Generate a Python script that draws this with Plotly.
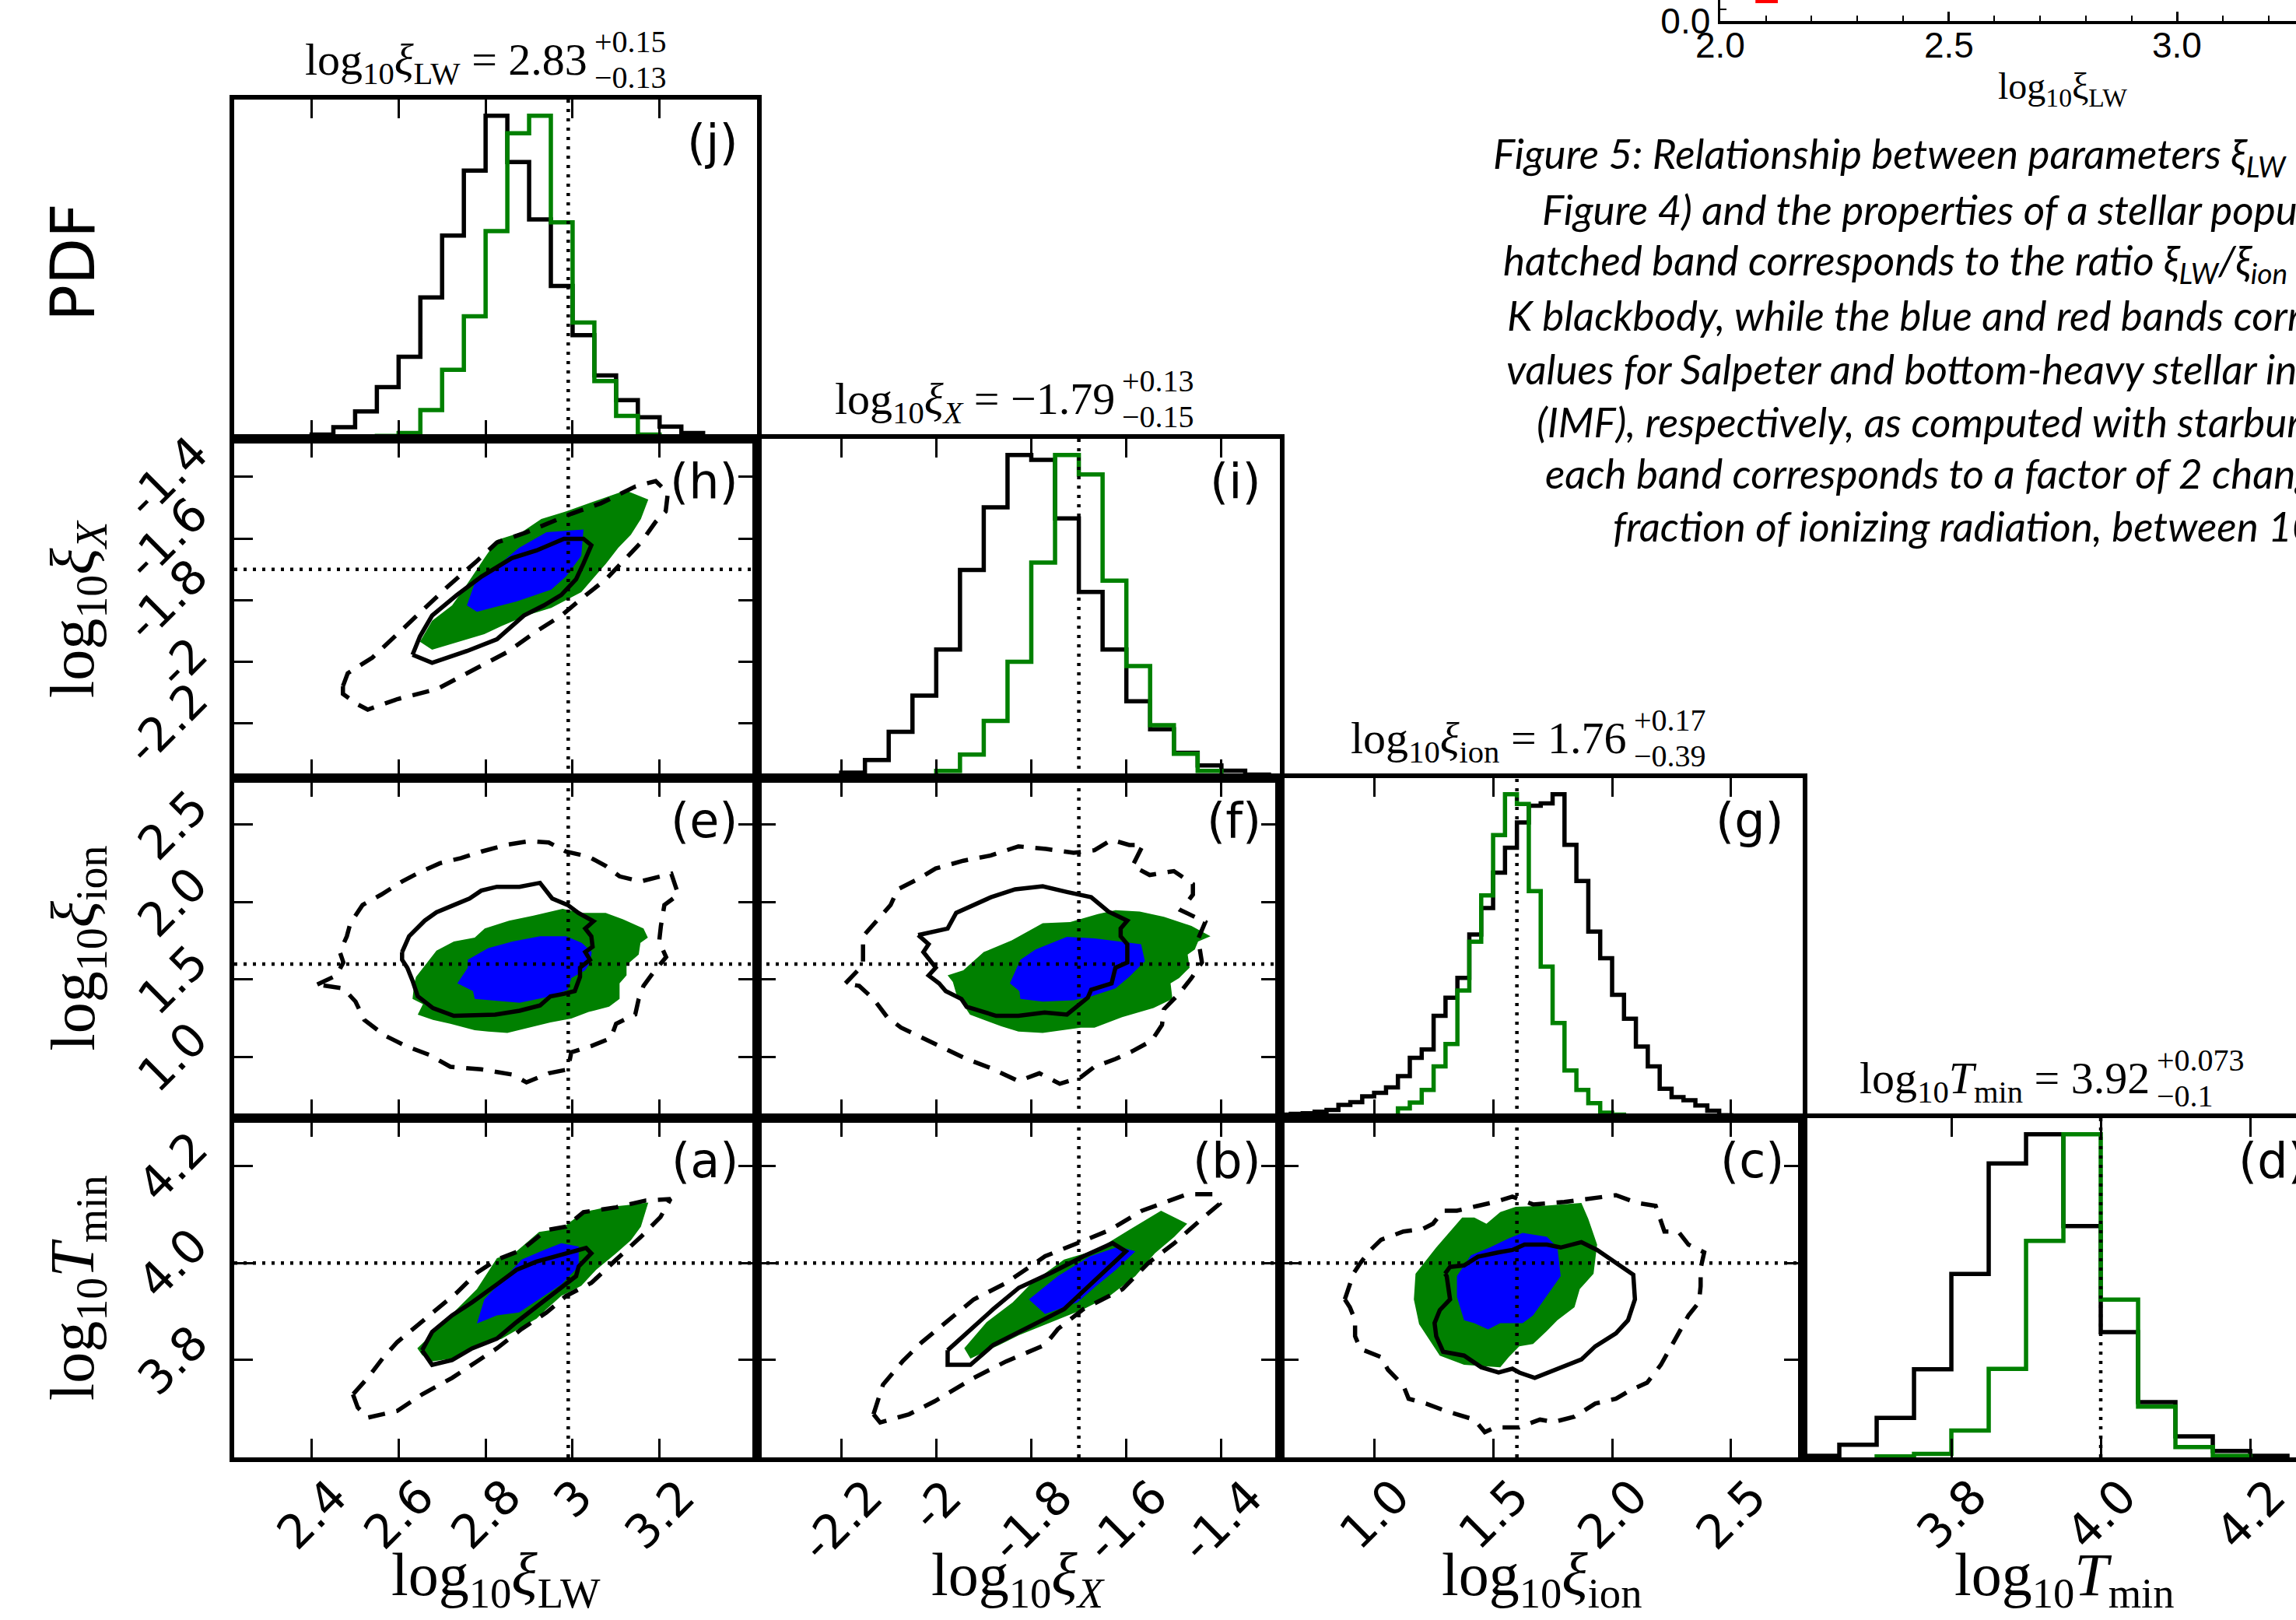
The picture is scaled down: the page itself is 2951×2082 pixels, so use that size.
import plotly.graph_objects as go

W, H = 2951, 2082

# ============================ DATA ============================
# parameters: 0 = log10 xi_LW, 1 = log10 xi_X, 2 = log10 xi_ion, 3 = log10 T_min
true_vals = [2.99, -1.70, 1.60, 4.00]

tick_vals = [[2.4, 2.6, 2.8, 3.0, 3.2],
             [-2.2, -2.0, -1.8, -1.6, -1.4],
             [1.0, 1.5, 2.0, 2.5],
             [3.8, 4.0, 4.2]]
tick_text = [['2.4', '2.6', '2.8', '3', '3.2'],
             ['-2.2', '-2', '-1.8', '-1.6', '-1.4'],
             ['1.0', '1.5', '2.0', '2.5'],
             ['3.8', '4.0', '4.2']]

axis_titles = ['log<sub>10</sub><i>ξ</i><sub>LW</sub>',
               'log<sub>10</sub><i>ξ</i><sub><i>X</i></sub>',
               'log<sub>10</sub><i>ξ</i><sub>ion</sub>',
               'log<sub>10</sub><i>T</i><sub>min</sub>']
title_median = ['2.83', '−1.79', '1.76', '3.92']
title_plus = ['+0.15', '+0.13', '+0.17', '+0.073']
title_minus = ['−0.13', '−0.15', '−0.39', '−0.1']

# ---- marginal histograms (step, normalised to peak) ----
j_black_edges = [2.30, 2.35, 2.40, 2.45, 2.50, 2.55, 2.60, 2.65, 2.70, 2.75, 2.80, 2.85,
                 2.90, 2.95, 3.00, 3.05, 3.10, 3.15, 3.20, 3.25, 3.30, 3.35, 3.40]
j_black = [0.002, 0.004, 0.013, 0.036, 0.085, 0.160, 0.254, 0.438, 0.629, 0.830, 1.000,
           0.857, 0.679, 0.473, 0.321, 0.196, 0.120, 0.067, 0.038, 0.018, 0.007, 0.003]
j_green_edges = [2.50, 2.55, 2.60, 2.65, 2.70, 2.75, 2.80, 2.85, 2.90, 2.95, 3.00, 3.05,
                 3.10, 3.15, 3.20, 3.25, 3.30]
j_green = [0.002, 0.009, 0.018, 0.089, 0.214, 0.379, 0.643, 0.946, 1.000, 0.670, 0.360,
           0.179, 0.071, 0.013, 0.004, 0.002]

i_black_edges = [-2.30, -2.25, -2.20, -2.15, -2.10, -2.05, -2.00, -1.95, -1.90, -1.85, -1.80,
                 -1.75, -1.70, -1.65, -1.60, -1.55, -1.50, -1.45, -1.40, -1.35, -1.30]
i_black = [0.002, 0.004, 0.017, 0.056, 0.143, 0.255, 0.398, 0.644, 0.838, 1.000, 0.985,
           0.804, 0.576, 0.398, 0.238, 0.151, 0.078, 0.039, 0.023, 0.011]
i_green_edges = [-2.05, -2.00, -1.95, -1.90, -1.85, -1.80, -1.75, -1.70, -1.65, -1.60, -1.55,
                 -1.50, -1.45, -1.40, -1.35, -1.30]
i_green = [0.004, 0.022, 0.073, 0.177, 0.360, 0.667, 1.000, 0.940, 0.611, 0.347, 0.164,
           0.075, 0.022, 0.007, 0.003]

g_black_edges = [0.60, 0.65, 0.70, 0.75, 0.80, 0.85, 0.90, 0.95, 1.00, 1.05, 1.10, 1.15,
                 1.20, 1.25, 1.30, 1.35, 1.40, 1.45, 1.50, 1.55, 1.60, 1.65, 1.70, 1.75,
                 1.80, 1.85, 1.90, 1.95, 2.00, 2.05, 2.10, 2.15, 2.20, 2.25, 2.30, 2.35,
                 2.40, 2.45, 2.50, 2.55, 2.60, 2.65, 2.70, 2.75, 2.80]
g_black = [0.011, 0.013, 0.015, 0.020, 0.025, 0.041, 0.049, 0.067, 0.078, 0.095, 0.130,
           0.186, 0.212, 0.316, 0.372, 0.433, 0.567, 0.649, 0.758, 0.835, 0.913, 0.965,
           0.972, 1.000, 0.844, 0.732, 0.576, 0.494, 0.381, 0.307, 0.221, 0.160, 0.091,
           0.065, 0.055, 0.039, 0.023, 0.009, 0.004, 0.004, 0.003, 0.002, 0.002, 0.001]
g_green_edges = [0.95, 1.00, 1.05, 1.10, 1.15, 1.20, 1.25, 1.30, 1.35, 1.40, 1.45, 1.50,
                 1.55, 1.60, 1.65, 1.70, 1.75, 1.80, 1.85, 1.90, 1.95, 2.00, 2.05, 2.10]
g_green = [0.002, 0.002, 0.006, 0.030, 0.048, 0.087, 0.160, 0.229, 0.394, 0.545, 0.688,
           0.874, 1.000, 0.970, 0.701, 0.468, 0.294, 0.147, 0.087, 0.046, 0.017, 0.011, 0.004]

d_black_edges = [3.55, 3.60, 3.65, 3.70, 3.75, 3.80, 3.85, 3.90, 3.95, 4.00, 4.05, 4.10,
                 4.15, 4.20, 4.25]
d_black = [0.003, 0.005, 0.039, 0.122, 0.273, 0.568, 0.910, 1.000, 0.716, 0.388, 0.171,
           0.065, 0.020, 0.005]
d_green_edges = [3.70, 3.75, 3.80, 3.85, 3.90, 3.95, 4.00, 4.05, 4.10, 4.15, 4.20]
d_green = [0.003, 0.011, 0.083, 0.274, 0.670, 1.000, 0.488, 0.157, 0.032, 0.005]

# ---- 2D credible regions (vertices) ----
# (h) xi_LW vs xi_X
h_green_x = [2.649, 2.677, 2.723, 2.757, 2.797, 2.826, 2.883, 2.928, 2.985, 3.054, 3.122, 3.174,
             3.157, 3.134, 3.105, 3.077, 3.020, 2.985, 2.951, 2.894, 2.837, 2.797, 2.757, 2.700, 2.677]
h_green_y = [-1.935, -1.867, -1.817, -1.749, -1.664, -1.605, -1.580, -1.537, -1.512, -1.478, -1.444, -1.474,
             -1.537, -1.588, -1.630, -1.681, -1.774, -1.800, -1.825, -1.850, -1.884, -1.910, -1.927, -1.952, -1.961]
h_blue_x = [2.757, 2.774, 2.826, 2.877, 2.940, 3.025, 3.020, 2.985, 2.951, 2.871, 2.780]
h_blue_y = [-1.817, -1.749, -1.690, -1.630, -1.580, -1.571, -1.656, -1.723, -1.766, -1.804, -1.838]
h_solid_x = [2.632, 2.649, 2.677, 2.734, 2.791, 2.860, 2.917, 2.980, 3.025, 3.043, 3.025, 3.008,
             2.974, 2.934, 2.888, 2.866, 2.826, 2.757, 2.677]
h_solid_y = [-1.977, -1.918, -1.850, -1.783, -1.723, -1.664, -1.639, -1.601, -1.601, -1.622, -1.681, -1.732,
             -1.783, -1.817, -1.850, -1.876, -1.927, -1.965, -2.003]
h_dash_x = [2.472, 2.483, 2.540, 2.597, 2.654, 2.712, 2.780, 2.826, 2.894, 2.997, 3.065, 3.145, 3.191,
            3.219, 3.214, 3.191, 3.157, 3.122, 3.077, 3.031, 2.974, 2.917, 2.849, 2.780, 2.689, 2.597,
            2.529, 2.506, 2.472]
h_dash_y = [-2.079, -2.037, -1.986, -1.910, -1.834, -1.757, -1.673, -1.613, -1.580, -1.520, -1.486, -1.431, -1.414,
            -1.452, -1.512, -1.546, -1.613, -1.664, -1.732, -1.783, -1.850, -1.901, -1.969, -2.020, -2.088, -2.121,
            -2.155, -2.138, -2.104]

# (e) xi_LW vs xi_ion
e_green_x = [2.640, 2.687, 2.727, 2.775, 2.798, 2.854, 2.910, 2.977, 3.021, 3.076, 3.116, 3.163, 3.173,
             3.156, 3.152, 3.124, 3.124, 3.108, 3.108, 3.084, 3.037, 2.997, 2.949, 2.902, 2.850, 2.806,
             2.775, 2.719, 2.679, 2.644, 2.656, 2.632, 2.636]
e_green_y = [1.517, 1.686, 1.745, 1.770, 1.829, 1.880, 1.913, 1.956, 1.930, 1.930, 1.888, 1.829, 1.770,
             1.736, 1.661, 1.593, 1.526, 1.475, 1.374, 1.324, 1.290, 1.248, 1.222, 1.189, 1.155, 1.163,
             1.172, 1.214, 1.239, 1.273, 1.340, 1.374, 1.475]
e_blue_x = [2.735, 2.759, 2.759, 2.806, 2.862, 2.925, 2.985, 3.021, 3.044, 3.040, 3.029, 2.997, 2.989,
            2.949, 2.878, 2.775, 2.771]
e_blue_y = [1.475, 1.576, 1.627, 1.703, 1.745, 1.779, 1.779, 1.736, 1.677, 1.610, 1.559, 1.509, 1.433,
            1.391, 1.349, 1.374, 1.425]
e_solid_x = [2.608, 2.624, 2.660, 2.687, 2.727, 2.763, 2.790, 2.826, 2.878, 2.925, 2.953, 2.989, 3.013,
             3.048, 3.029, 3.043, 3.046, 3.029, 3.040, 3.017, 3.017, 3.005, 2.981, 2.949, 2.925, 2.878,
             2.822, 2.727, 2.679, 2.644, 2.632, 2.620, 2.608]
e_solid_y = [1.677, 1.779, 1.880, 1.934, 1.981, 2.023, 2.074, 2.099, 2.099, 2.124, 2.023, 1.981, 1.930,
             1.876, 1.829, 1.779, 1.711, 1.677, 1.627, 1.576, 1.517, 1.425, 1.408, 1.391, 1.332, 1.298,
             1.273, 1.265, 1.315, 1.391, 1.492, 1.576, 1.627]
e_dash_x = [2.413, 2.457, 2.473, 2.465, 2.481, 2.489, 2.517, 2.560, 2.608, 2.648, 2.695, 2.743, 2.790,
            2.846, 2.902, 2.945, 2.985, 3.037, 3.076, 3.108, 3.156, 3.195, 3.227, 3.243, 3.211, 3.203,
            3.199, 3.215, 3.187, 3.163, 3.152, 3.144, 3.100, 3.088, 3.044, 2.997, 2.989, 2.945, 2.894,
            2.862, 2.790, 2.719, 2.671, 2.616, 2.568, 2.521, 2.501, 2.473, 2.433]
e_dash_y = [1.467, 1.526, 1.610, 1.677, 1.779, 1.863, 1.981, 2.048, 2.133, 2.192, 2.251, 2.284, 2.326,
            2.369, 2.394, 2.385, 2.326, 2.293, 2.234, 2.166, 2.133, 2.158, 2.183, 2.048, 1.981, 1.846,
            1.745, 1.644, 1.551, 1.458, 1.374, 1.273, 1.214, 1.121, 1.071, 1.029, 0.919, 0.894, 0.835,
            0.885, 0.919, 0.936, 1.012, 1.071, 1.138, 1.239, 1.357, 1.442, 1.458]

# (f) xi_X vs xi_ion
f_green_x = [-1.976, -1.943, -1.900, -1.841, -1.776, -1.718, -1.660, -1.623, -1.572, -1.521, -1.463,
             -1.423, -1.449, -1.456, -1.471, -1.467, -1.489, -1.507, -1.503, -1.543, -1.609, -1.667,
             -1.696, -1.776, -1.827, -1.863, -1.929, -1.958, -1.965]
f_green_y = [1.526, 1.559, 1.677, 1.753, 1.863, 1.871, 1.922, 1.947, 1.939, 1.905, 1.846, 1.779, 1.745,
             1.694, 1.661, 1.576, 1.509, 1.475, 1.374, 1.315, 1.256, 1.189, 1.189, 1.155, 1.163, 1.197,
             1.273, 1.408, 1.484]
f_blue_x = [-1.845, -1.823, -1.791, -1.725, -1.667, -1.609, -1.569, -1.561, -1.594, -1.623, -1.674,
            -1.711, -1.776, -1.823, -1.825]
f_blue_y = [1.475, 1.627, 1.694, 1.775, 1.765, 1.745, 1.728, 1.618, 1.517, 1.442, 1.391, 1.366, 1.357,
            1.374, 1.425]
f_solid_x = [-2.038, -1.976, -1.958, -1.921, -1.885, -1.834, -1.776, -1.725, -1.674, -1.638, -1.598,
             -1.612, -1.612, -1.598, -1.598, -1.623, -1.631, -1.674, -1.681, -1.725, -1.772, -1.827,
             -1.874, -1.936, -1.947, -1.980, -1.994, -2.016, -2.001, -2.027, -2.016]
f_solid_y = [1.787, 1.829, 1.930, 1.981, 2.031, 2.082, 2.102, 2.065, 2.031, 1.939, 1.880, 1.829, 1.779,
             1.728, 1.610, 1.576, 1.475, 1.433, 1.383, 1.273, 1.286, 1.265, 1.265, 1.324, 1.374, 1.425,
             1.475, 1.526, 1.576, 1.677, 1.728]
f_dash_x = [-2.191, -2.154, -2.154, -2.125, -2.096, -2.081, -2.038, -2.001, -1.943, -1.885, -1.827,
            -1.769, -1.711, -1.667, -1.631, -1.594, -1.565, -1.587, -1.551, -1.500, -1.460, -1.460,
            -1.485, -1.434, -1.449, -1.441, -1.463, -1.489, -1.521, -1.525, -1.547, -1.587, -1.623,
            -1.667, -1.696, -1.740, -1.783, -1.827, -1.885, -1.936, -1.987, -2.031, -2.074, -2.103,
            -2.132, -2.162]
f_dash_y = [1.475, 1.593, 1.779, 1.880, 1.981, 2.082, 2.149, 2.217, 2.267, 2.301, 2.360, 2.343, 2.318,
            2.335, 2.402, 2.369, 2.369, 2.234, 2.175, 2.200, 2.116, 2.048, 1.947, 1.871, 1.762, 1.610,
            1.509, 1.408, 1.307, 1.206, 1.104, 1.037, 0.986, 0.936, 0.868, 0.826, 0.894, 0.843, 0.927,
            0.986, 1.062, 1.121, 1.189, 1.256, 1.374, 1.458]

# (a) xi_LW vs T_min
a_green_x = [2.643, 2.689, 2.734, 2.780, 2.826, 2.871, 2.923, 2.974, 3.025, 3.077, 3.122, 3.174, 3.157,
             3.134, 3.100, 3.054, 3.020, 2.974, 2.940, 2.917, 2.837, 2.769, 2.723, 2.677, 2.654]
a_green_y = [3.824, 3.864, 3.905, 3.946, 4.010, 4.024, 4.064, 4.071, 4.105, 4.115, 4.119, 4.125, 4.075,
             4.047, 4.020, 3.986, 3.953, 3.932, 3.905, 3.885, 3.844, 3.824, 3.803, 3.797, 3.810]
a_blue_x = [2.780, 2.797, 2.837, 2.883, 2.934, 2.974, 3.014, 3.014, 2.974, 2.940, 2.877, 2.826]
a_blue_y = [3.875, 3.925, 3.963, 4.007, 4.027, 4.041, 4.034, 3.993, 3.956, 3.936, 3.898, 3.892]
a_solid_x = [2.654, 2.677, 2.723, 2.769, 2.826, 2.871, 2.917, 2.974, 3.031, 3.043, 3.014, 3.008, 2.974,
             2.928, 2.871, 2.826, 2.769, 2.723, 2.677]
a_solid_y = [3.820, 3.858, 3.892, 3.919, 3.956, 3.986, 4.003, 4.017, 4.031, 4.020, 3.993, 3.973, 3.949,
             3.919, 3.878, 3.844, 3.824, 3.800, 3.790]
a_dash_x = [2.495, 2.506, 2.529, 2.597, 2.654, 2.723, 2.780, 2.826, 2.883, 2.940, 2.985, 3.043, 3.100,
            3.157, 3.202, 3.225, 3.168, 3.100, 3.025, 2.985, 2.940, 2.883, 2.826, 2.780, 2.734, 2.689,
            2.643, 2.597, 2.563, 2.529]
a_dash_y = [3.729, 3.702, 3.681, 3.695, 3.729, 3.763, 3.797, 3.824, 3.864, 3.898, 3.932, 3.959, 4.007,
            4.054, 4.095, 4.132, 4.129, 4.115, 4.105, 4.075, 4.068, 4.027, 4.007, 3.980, 3.939, 3.905,
            3.871, 3.837, 3.803, 3.763]

# (b) xi_X vs T_min
b_green_x = [-1.941, -1.894, -1.839, -1.799, -1.731, -1.663, -1.595, -1.527, -1.472, -1.499, -1.540,
             -1.581, -1.635, -1.690, -1.758, -1.826, -1.867, -1.928]
b_green_y = [3.824, 3.878, 3.919, 3.959, 4.007, 4.027, 4.068, 4.108, 4.081, 4.054, 4.020, 3.973, 3.932,
             3.905, 3.878, 3.851, 3.831, 3.803]
b_blue_x = [-1.805, -1.744, -1.676, -1.615, -1.581, -1.622, -1.663, -1.703, -1.771]
b_blue_y = [3.925, 3.973, 4.014, 4.034, 4.024, 3.986, 3.953, 3.919, 3.895]
b_solid_x = [-1.976, -1.928, -1.880, -1.826, -1.758, -1.690, -1.629, -1.601, -1.649, -1.697, -1.731,
             -1.771, -1.826, -1.880, -1.928, -1.976]
b_solid_y = [3.820, 3.864, 3.905, 3.949, 3.980, 4.014, 4.041, 4.024, 3.980, 3.939, 3.905, 3.885, 3.858,
             3.831, 3.790, 3.790]
b_dash_x = [-2.132, -2.112, -2.071, -2.030, -1.962, -1.921, -1.853, -1.771, -1.703, -1.635, -1.567,
            -1.472, -1.418, -1.404, -1.445, -1.499, -1.554, -1.608, -1.690, -1.744, -1.771, -1.853,
            -1.921, -2.003, -2.057, -2.118]
b_dash_y = [3.688, 3.749, 3.797, 3.837, 3.892, 3.925, 3.959, 4.014, 4.041, 4.068, 4.108, 4.142, 4.142,
            4.122, 4.088, 4.041, 4.000, 3.946, 3.905, 3.864, 3.831, 3.797, 3.763, 3.715, 3.688, 3.671]

# (c) xi_ion vs T_min
c_green_x = [1.174, 1.261, 1.370, 1.421, 1.472, 1.530, 1.595, 1.711, 1.871, 1.900, 1.937, 1.929, 1.922,
             1.864, 1.842, 1.770, 1.726, 1.668, 1.610, 1.566, 1.530, 1.378, 1.276, 1.189, 1.167]
c_green_y = [3.978, 4.032, 4.094, 4.094, 4.081, 4.105, 4.116, 4.118, 4.124, 4.091, 4.038, 4.005, 3.978,
             3.946, 3.909, 3.882, 3.860, 3.833, 3.828, 3.806, 3.785, 3.790, 3.809, 3.874, 3.925]
c_blue_x = [1.348, 1.407, 1.486, 1.566, 1.624, 1.726, 1.770, 1.784, 1.711, 1.668, 1.624, 1.530, 1.479,
            1.421, 1.378, 1.348]
c_blue_y = [3.973, 4.016, 4.032, 4.051, 4.062, 4.054, 4.032, 3.973, 3.922, 3.892, 3.876, 3.876, 3.863,
            3.876, 3.882, 3.930]
c_solid_x = [1.298, 1.319, 1.378, 1.436, 1.523, 1.581, 1.632, 1.726, 1.784, 1.871, 1.937, 2.002, 2.089,
             2.096, 2.067, 2.016, 1.966, 1.929, 1.871, 1.813, 1.741, 1.675, 1.610, 1.581, 1.523, 1.450,
             1.378, 1.290, 1.261, 1.254, 1.276, 1.319, 1.305]
c_solid_y = [3.978, 3.992, 3.995, 4.013, 4.022, 4.027, 4.038, 4.038, 4.032, 4.043, 4.027, 4.005, 3.976,
             3.925, 3.882, 3.855, 3.839, 3.828, 3.801, 3.790, 3.774, 3.763, 3.774, 3.782, 3.774, 3.785,
             3.809, 3.817, 3.849, 3.876, 3.903, 3.925, 3.973]
c_dash_x = [0.877, 0.891, 0.913, 0.942, 0.985, 1.029, 1.123, 1.203, 1.247, 1.290, 1.348, 1.436, 1.508,
            1.581, 1.668, 1.799, 1.929, 2.016, 2.104, 2.183, 2.220, 2.278, 2.321, 2.387, 2.372, 2.372,
            2.365, 2.321, 2.285, 2.249, 2.205, 2.147, 2.074, 2.016, 1.929, 1.842, 1.755, 1.697, 1.610,
            1.508, 1.465, 1.421, 1.305, 1.218, 1.145, 1.123, 1.058, 1.029, 0.942, 0.920, 0.920, 0.898]
c_dash_y = [3.925, 3.946, 3.978, 4.000, 4.027, 4.048, 4.065, 4.070, 4.081, 4.108, 4.108, 4.118, 4.126,
            4.137, 4.121, 4.126, 4.134, 4.140, 4.124, 4.118, 4.065, 4.065, 4.038, 4.022, 3.989, 3.952,
            3.919, 3.892, 3.860, 3.828, 3.790, 3.753, 3.737, 3.720, 3.710, 3.683, 3.672, 3.677, 3.661,
            3.661, 3.651, 3.677, 3.694, 3.710, 3.720, 3.747, 3.780, 3.806, 3.823, 3.849, 3.882, 3.909]

# ---- partial neighbouring figure (top right) ----
mini_xticks = [2.0, 2.5, 3.0]
mini_xticktext = ['2.0', '2.5', '3.0']
mini_minor = [2.1, 2.2, 2.3, 2.4, 2.6, 2.7, 2.8, 2.9, 3.1, 3.2]
mini_yticks = [0.0, 0.55]
mini_yticktext = ['0.0', '']
red_patch_x = [2.077, 2.126]
red_patch_y = [0.85, 1.0]

caption_lines = [
    "Figure 5: Relationship between parameters ξ<sub>LW</sub>",
    "Figure 4) and the properties of a stellar population",
    "hatched band corresponds to the ratio ξ<sub>LW</sub>/ξ<sub>ion</sub>",
    "K blackbody, while the blue and red bands correspond",
    "values for Salpeter and bottom-heavy stellar initial",
    "(IMF), respectively, as computed with starburst",
    "each band corresponds to a factor of 2 change",
    "fraction of ionizing radiation, between 10",
]

# ============================ FIGURE ============================
GREEN = '#008000'
BLUE = '#0000ff'
SERIF = 'Liberation Serif'
SANS = 'DejaVu Sans'

col_px = [301, 973, 1645, 2317, 2989]
row_px = [128, 564, 1000, 1437, 1873]
x_ranges = [[2.222, 3.424], [-2.377, -1.277], [0.604, 2.801], [3.601, 4.301]]
y_ranges = [None, [-2.377, -1.277], [0.604, 2.801], [3.599, 4.299]]

panels = [(0, 0, 'j'), (1, 0, 'h'), (1, 1, 'i'), (2, 0, 'e'), (2, 1, 'f'), (2, 2, 'g'),
          (3, 0, 'a'), (3, 1, 'b'), (3, 2, 'c'), (3, 3, 'd')]

hists = {0: (j_black_edges, j_black, j_green_edges, j_green),
         1: (i_black_edges, i_black, i_green_edges, i_green),
         2: (g_black_edges, g_black, g_green_edges, g_green),
         3: (d_black_edges, d_black, d_green_edges, d_green)}

conts = {'h': [(h_green_x, h_green_y), (h_blue_x, h_blue_y), (h_solid_x, h_solid_y), (h_dash_x, h_dash_y)],
         'e': [(e_green_x, e_green_y), (e_blue_x, e_blue_y), (e_solid_x, e_solid_y), (e_dash_x, e_dash_y)],
         'f': [(f_green_x, f_green_y), (f_blue_x, f_blue_y), (f_solid_x, f_solid_y), (f_dash_x, f_dash_y)],
         'a': [(a_green_x, a_green_y), (a_blue_x, a_blue_y), (a_solid_x, a_solid_y), (a_dash_x, a_dash_y)],
         'b': [(b_green_x, b_green_y), (b_blue_x, b_blue_y), (b_solid_x, b_solid_y), (b_dash_x, b_dash_y)],
         'c': [(c_green_x, c_green_y), (c_blue_x, c_blue_y), (c_solid_x, c_solid_y), (c_dash_x, c_dash_y)]}


def names(n):
    return ('x' if n == 1 else f'x{n}', 'y' if n == 1 else f'y{n}')


fig = go.Figure()
layout = {}
shapes = []
annotations = []

SPINE = 6
TICKLEN = 24
TICKW = 3
LINEW = 5.5
DOT = dict(color='black', width=4.5, dash='4px,8px')
TICKFONT = dict(family=SANS, size=60, color='black')

for i, (r, c, let) in enumerate(panels):
    n = i + 1
    xa, ya = names(n)
    x0, x1 = col_px[c], col_px[c + 1]
    xr = list(x_ranges[c])
    if x1 > W:
        xr[1] = xr[0] + (xr[1] - xr[0]) * (W - x0) / (x1 - x0)
        x1 = W
    ydom = [1 - row_px[r + 1] / H, 1 - row_px[r] / H]
    common = dict(showline=True, linewidth=SPINE, linecolor='black', showgrid=False, zeroline=False,
                  showticklabels=False, fixedrange=True, automargin=False)
    layout['xaxis' if n == 1 else f'xaxis{n}'] = dict(
        domain=[x0 / W, x1 / W], range=xr, anchor=ya, mirror='ticks', ticks='inside',
        ticklen=TICKLEN, tickwidth=TICKW, tickcolor='black', tickvals=tick_vals[c], **common)
    if r == c:
        layout['yaxis' if n == 1 else f'yaxis{n}'] = dict(
            domain=ydom, range=[0, 1.05], anchor=xa, mirror=(c < 3), ticks='', **common)
        be, bh, ge, gh = hists[c]
        for edges, hts, col in [(be, bh, 'black'), (ge, gh, GREEN)]:
            xs = [edges[0]] + edges[:-1] + [edges[-1], edges[-1]]
            ys = [0] + hts + [hts[-1], 0]
            fig.add_trace(go.Scatter(x=xs, y=ys, mode='lines', line=dict(color=col, width=LINEW, shape='hv'),
                                     xaxis=xa, yaxis=ya, hoverinfo='skip', showlegend=False))
    else:
        layout['yaxis' if n == 1 else f'yaxis{n}'] = dict(
            domain=ydom, range=y_ranges[r], anchor=xa, mirror='ticks', ticks='inside',
            ticklen=TICKLEN, tickwidth=TICKW, tickcolor='black', tickvals=tick_vals[r], **common)
        (gx, gy), (bx, by), (sx, sy), (dx, dy) = conts[let]
        fig.add_trace(go.Scatter(x=gx, y=gy, fill='toself', fillcolor=GREEN, mode='lines',
                                 line=dict(width=0, color=GREEN), xaxis=xa, yaxis=ya,
                                 hoverinfo='skip', showlegend=False))
        fig.add_trace(go.Scatter(x=bx, y=by, fill='toself', fillcolor=BLUE, mode='lines',
                                 line=dict(width=0, color=BLUE), xaxis=xa, yaxis=ya,
                                 hoverinfo='skip', showlegend=False))
        fig.add_trace(go.Scatter(x=sx + sx[:1], y=sy + sy[:1], mode='lines',
                                 line=dict(color='black', width=LINEW), xaxis=xa, yaxis=ya,
                                 hoverinfo='skip', showlegend=False))
        fig.add_trace(go.Scatter(x=dx + dx[:1], y=dy + dy[:1], mode='lines',
                                 line=dict(color='black', width=LINEW, dash='22px,15px'), xaxis=xa, yaxis=ya,
                                 hoverinfo='skip', showlegend=False))
        shapes.append(dict(type='line', xref=f'{xa} domain', yref=ya, x0=0, x1=1,
                           y0=true_vals[r], y1=true_vals[r], line=DOT, layer='above'))
    shapes.append(dict(type='line', xref=xa, yref=f'{ya} domain', x0=true_vals[c], x1=true_vals[c],
                       y0=0, y1=1, line=DOT, layer='above'))

    # panel letter
    annotations.append(dict(text=f'({let})', xref='paper', yref='paper',
                            x=(col_px[c + 1] - 22) / W, y=1 - (row_px[r] + 54) / H,
                            xanchor='right', yanchor='middle', showarrow=False,
                            font=dict(family=SANS, size=62, color='black')))

    # bottom-row tick labels
    if r == 3:
        for v, t in zip(tick_vals[c], tick_text[c]):
            annotations.append(dict(text=t, xref=xa, yref='paper', x=v, y=1 - (row_px[4] + 12) / H,
                                    xanchor='center', yanchor='top', textangle=-45, showarrow=False,
                                    font=TICKFONT))
    # left-column tick labels
    if c == 0 and r > 0:
        for v, t in zip(tick_vals[r], tick_text[r]):
            annotations.append(dict(text=t, xref='paper', yref=ya, x=(col_px[0] - 18) / W, y=v,
                                    xanchor='right', yanchor='middle', textangle=-45, showarrow=False,
                                    font=TICKFONT))

# titles above diagonal panels (median with stacked +/- errors)
main_right_px = [757, 1435, 2093, 2765]
for c in range(4):
    top = row_px[c]
    annotations.append(dict(text=f'{axis_titles[c]} = {title_median[c]}', xref='paper', yref='paper',
                            x=main_right_px[c] / W, y=1 - (top - 48) / H, xanchor='right',
                            yanchor='middle', showarrow=False,
                            font=dict(family=SERIF, size=58, color='black')))
    annotations.append(dict(text=title_plus[c], xref='paper', yref='paper',
                            x=(main_right_px[c] + 5) / W, y=1 - (top - 75) / H, xanchor='left',
                            yanchor='middle', showarrow=False,
                            font=dict(family=SERIF, size=40, color='black')))
    annotations.append(dict(text=title_minus[c], xref='paper', yref='paper',
                            x=(main_right_px[c] + 5) / W, y=1 - (top - 29) / H, xanchor='left',
                            yanchor='middle', showarrow=False,
                            font=dict(family=SERIF, size=40, color='black')))

# axis labels
for c in range(4):
    annotations.append(dict(text=axis_titles[c], xref='paper', yref='paper',
                            x=(col_px[c] + col_px[c + 1]) / 2 / W, y=1 - 2029 / H,
                            xanchor='center', yanchor='middle', showarrow=False,
                            font=dict(family=SERIF, size=78, color='black')))
for r in range(1, 4):
    annotations.append(dict(text=axis_titles[r], xref='paper', yref='paper',
                            x=99 / W, y=1 - (row_px[r] + row_px[r + 1]) / 2 / H, textangle=-90,
                            xanchor='center', yanchor='middle', showarrow=False,
                            font=dict(family=SERIF, size=80, color='black')))
annotations.append(dict(text='PDF', xref='paper', yref='paper', x=94 / W, y=1 - 337 / H, textangle=-90,
                        xanchor='center', yanchor='middle', showarrow=False,
                        font=dict(family=SANS, size=78, color='black')))

# neighbouring figure fragment (top right)
MINI_AX_PX = 27
layout['xaxis11'] = dict(domain=[2211 / W, 1.0], range=[2.0, 3.26], anchor='y11', showline=True,
                         linewidth=3.5, linecolor='black', ticks='inside', ticklen=12, tickwidth=2.5,
                         tickcolor='black', tickvals=mini_xticks, showticklabels=False,
                         minor=dict(tickvals=mini_minor, ticks='inside', ticklen=7, tickwidth=2,
                                    tickcolor='black'),
                         showgrid=False, zeroline=False, fixedrange=True, automargin=False)
layout['yaxis11'] = dict(domain=[1 - MINI_AX_PX / H, 1.0], range=[0, 1], anchor='x11', showline=True,
                         linewidth=3.5, linecolor='black', ticks='inside', ticklen=8, tickwidth=2.5,
                         tickcolor='black', tickvals=mini_yticks, ticktext=mini_yticktext,
                         tickfont=dict(family='Liberation Sans', size=46, color='black'),
                         showgrid=False, zeroline=False, fixedrange=True, automargin=False)
fig.add_trace(go.Scatter(x=[red_patch_x[0], red_patch_x[1], red_patch_x[1], red_patch_x[0]],
                         y=[red_patch_y[0], red_patch_y[0], red_patch_y[1], red_patch_y[1]],
                         fill='toself', fillcolor='#ff0000', mode='lines', line=dict(width=0, color='#ff0000'),
                         xaxis='x11', yaxis='y11', hoverinfo='skip', showlegend=False))
for v, t in zip(mini_xticks, mini_xticktext):
    annotations.append(dict(text=t, xref='x11', yref='paper', x=v, y=1 - 58 / H,
                            xanchor='center', yanchor='middle', showarrow=False,
                            font=dict(family='Liberation Sans', size=46, color='black')))
annotations.append(dict(text='log<sub>10</sub>ξ<sub>LW</sub>', xref='paper', yref='paper',
                        x=2651 / W, y=1 - 114 / H, xanchor='center', yanchor='middle', showarrow=False,
                        font=dict(family=SERIF, size=48, color='black')))

cap_x = [1917, 1980, 1930, 1935, 1934, 1973, 1984, 2071]
cap_y = [200, 268, 337, 405, 473, 541, 608, 675]
for t, cx, cy in zip(caption_lines, cap_x, cap_y):
    annotations.append(dict(text=f'<i>{t}</i>', xref='paper', yref='paper', x=cx / W, y=1 - cy / H,
                            xanchor='left', yanchor='middle', showarrow=False,
                            font=dict(family='Lato', size=53, color='black')))

fig.update_layout(**layout)
fig.update_layout(width=W, height=H,
                  margin=dict(l=0, r=0, t=0, b=0, pad=0, autoexpand=False),
                  paper_bgcolor='white', plot_bgcolor='white', showlegend=False,
                  hovermode=False, shapes=shapes, annotations=annotations,
                  font=dict(family=SANS, color='black'))

fig.write_html("out.html", config={'displayModeBar': False, 'staticPlot': True},
               post_script="document.body.style.margin='0';document.body.style.overflow='hidden';")
